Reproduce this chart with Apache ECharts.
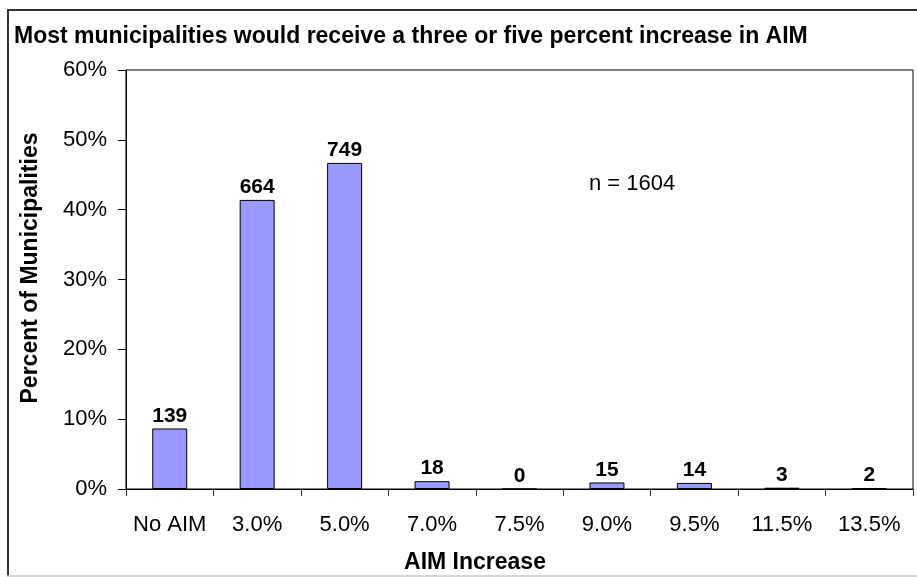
<!DOCTYPE html>
<html>
<head>
<meta charset="utf-8">
<title>AIM Increase</title>
<script src="https://cdn.jsdelivr.net/npm/echarts@6/dist/echarts.min.js"></script>
<style>
  html, body { margin: 0; padding: 0; background: #ffffff; }
  #chart { width: 917px; height: 577px; }
</style>
</head>
<body>
<div id="chart"></div>
<script>
// AIM increase categories and municipality counts
const categories = ['No AIM', '3.0%', '5.0%', '7.0%', '7.5%', '9.0%', '9.5%', '11.5%', '13.5%'];
const counts = [139, 664, 749, 18, 0, 15, 14, 3, 2];
const totalMunicipalities = 1604;
const yTicks = [0, 10, 20, 30, 40, 50, 60];

const FONT = '"Liberation Sans", Arial, sans-serif';

// Share of municipalities in each category, in percent
const percents = counts.map(c => c / totalMunicipalities * 100);

const chart = echarts.init(document.getElementById('chart'), null, { renderer: 'canvas' });

chart.setOption({
  backgroundColor: '#ffffff',
  animation: false,
  title: {
    text: 'Most municipalities would receive a three or five percent increase in AIM',
    left: 14,
    top: 25,
    padding: 0,
    textStyle: { fontFamily: FONT, fontSize: 23, fontWeight: 'bold', color: '#000' }
  },
  grid: {
    left: 126, top: 70, right: 4, bottom: 88,
    show: true, borderColor: '#000', borderWidth: 1, backgroundColor: '#fff'
  },
  xAxis: {
    type: 'category',
    data: categories,
    axisLine: { lineStyle: { color: '#000', width: 1 } },
    axisTick: { show: true, length: 7, alignWithLabel: false, lineStyle: { color: '#333' } },
    axisLabel: { interval: 0, margin: 25, fontFamily: FONT, fontSize: 22, color: '#000' },
    splitLine: { show: false }
  },
  yAxis: {
    type: 'value',
    min: yTicks[0],
    max: yTicks[yTicks.length - 1],
    interval: 10,
    axisLine: { show: true, lineStyle: { color: '#000', width: 1 } },
    axisTick: { show: true, length: 8, lineStyle: { color: '#000' } },
    axisLabel: { margin: 19, fontFamily: FONT, fontSize: 22, color: '#000', formatter: v => v + '%' },
    splitLine: { show: false }
  },
  series: [{
    type: 'bar',
    data: percents,
    barCategoryGap: '60%',
    itemStyle: { color: '#9999FF', borderColor: '#000', borderWidth: 1 },
    label: {
      show: true,
      position: 'top',
      distance: 2,
      fontFamily: FONT,
      fontSize: 21,
      fontWeight: 'bold',
      color: '#000',
      formatter: p => String(counts[p.dataIndex])
    }
  }],
  graphic: [
    // outer chart frame
    { type: 'line', shape: { x1: 7, y1: 10, x2: 917, y2: 10 }, style: { stroke: '#333', lineWidth: 2 } },
    { type: 'line', shape: { x1: 8, y1: 9, x2: 8, y2: 576 }, style: { stroke: '#333', lineWidth: 2 } },
    { type: 'line', shape: { x1: 7, y1: 576, x2: 917, y2: 576 }, style: { stroke: '#c8c8c8', lineWidth: 1.5 } },
    // axis titles and sample size note
    {
      type: 'text', x: 31, y: 268, rotation: Math.PI / 2,
      style: {
        text: 'Percent of Municipalities', fontFamily: FONT, fontSize: 23, fontWeight: 'bold',
        fill: '#000', align: 'center', verticalAlign: 'middle'
      }
    },
    {
      type: 'text', x: 475, y: 563,
      style: {
        text: 'AIM Increase', fontFamily: FONT, fontSize: 23, fontWeight: 'bold',
        fill: '#000', align: 'center', verticalAlign: 'middle'
      }
    },
    {
      type: 'text', x: 632, y: 184,
      style: {
        text: 'n = ' + totalMunicipalities, fontFamily: FONT, fontSize: 22,
        fill: '#000', align: 'center', verticalAlign: 'middle'
      }
    }
  ]
});
</script>
</body>
</html>
